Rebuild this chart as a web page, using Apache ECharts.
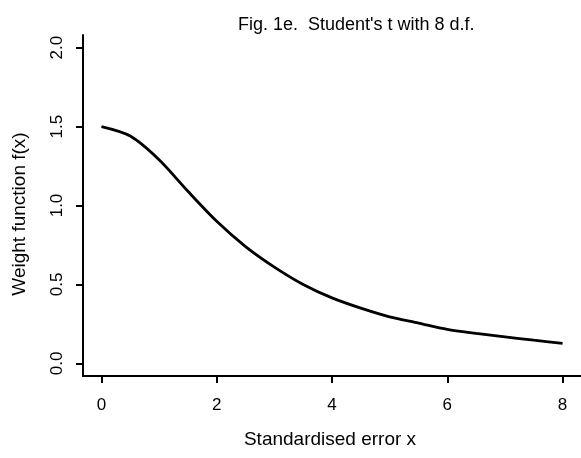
<!DOCTYPE html>
<html>
<head>
<meta charset="utf-8">
<script src="https://cdn.jsdelivr.net/npm/echarts@6/dist/echarts.min.js"></script>
<style>
  html, body { margin: 0; padding: 0; background: #fff; }
  #chart { width: 581px; height: 458px; }
</style>
</head>
<body>
<div id="chart"></div>
<script>
// values
const errorX = [0, 0.5, 1, 1.5, 2, 2.5, 3, 3.5, 4, 4.5, 5, 5.5, 6, 6.5, 7, 7.5, 8];
const weightF = [1.50, 1.44, 1.29, 1.09, 0.90, 0.74, 0.61, 0.50, 0.415, 0.35, 0.295, 0.255, 0.215, 0.19, 0.168, 0.147, 0.127];
const xTicks = [0, 2, 4, 6, 8];
const yTicks = [0, 0.5, 1, 1.5, 2];

const font = '"Liberation Sans", Arial, sans-serif';
const ink = '#000';

const chart = echarts.init(document.getElementById('chart'), null, { renderer: 'canvas' });

chart.setOption({
    backgroundColor: '#fff',
    animation: false,
    title: {
        text: "Fig. 1e.  Student's t with 8 d.f.",
        left: 233,
        top: 11,
        textStyle: { fontFamily: font, fontSize: 18, fontWeight: 'normal', color: ink }
    },
    grid: { left: 83, right: 0, top: 35, bottom: 82 },
    xAxis: {
        type: 'value',
        min: -0.32,
        max: 8.32,
        axisLine: { onZero: false, lineStyle: { color: ink, width: 2 } },
        axisTick: { customValues: xTicks, length: 7, lineStyle: { color: ink, width: 2 } },
        axisLabel: {
            customValues: xTicks,
            margin: 21,
            fontFamily: font, fontSize: 17, color: ink
        },
        splitLine: { show: false }
    },
    yAxis: {
        type: 'value',
        min: -0.08,
        max: 2.08,
        axisLine: { onZero: false, lineStyle: { color: ink, width: 2 } },
        axisTick: { customValues: yTicks, length: 7, lineStyle: { color: ink, width: 2 } },
        axisLabel: {
            customValues: yTicks,
            rotate: 90,
            margin: 17,
            formatter: (v) => v.toFixed(1),
            fontFamily: font, fontSize: 17, color: ink
        },
        splitLine: { show: false }
    },
    graphic: [
        {
            type: 'text',
            x: 330, y: 440,
            style: {
                text: 'Standardised error x',
                font: '19px ' + font,
                fill: ink,
                align: 'center', verticalAlign: 'middle'
            }
        },
        {
            type: 'text',
            x: 20, y: 214,
            rotation: Math.PI / 2,
            style: {
                text: 'Weight function f(x)',
                font: '19px ' + font,
                fill: ink,
                align: 'center', verticalAlign: 'middle'
            }
        }
    ],
    series: [{
        type: 'line',
        data: errorX.map((x, i) => [x, weightF[i]]),
        smooth: 0.3,
        showSymbol: false,
        lineStyle: { color: ink, width: 2.8 }
    }]
});
</script>
</body>
</html>
